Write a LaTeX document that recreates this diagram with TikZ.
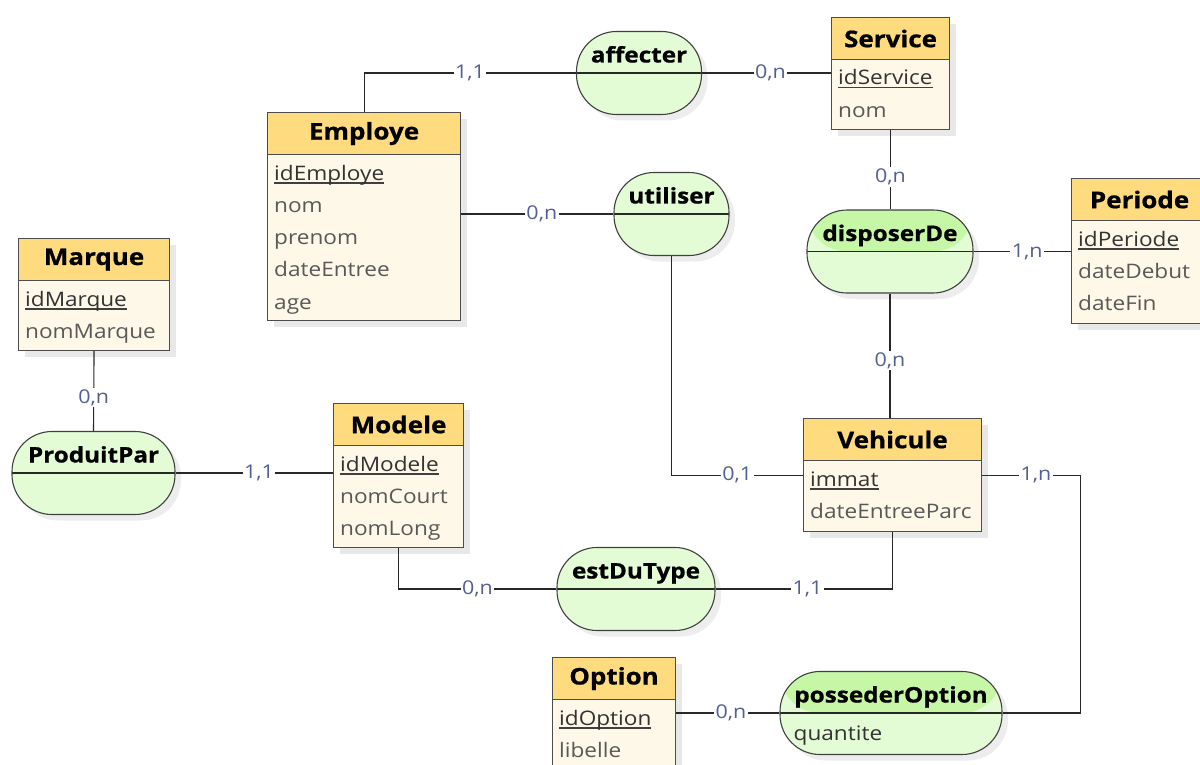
\documentclass[tikz,border=0pt]{standalone}
\usepackage{fontspec}
\setmainfont{Open Sans}[FakeStretch=1.13, BoldFeatures={FakeBold=0.8}]
\usetikzlibrary{shadows}

\definecolor{entete}{RGB}{255,219,128}
\definecolor{corps}{RGB}{253,248,232}
\definecolor{relhaut}{RGB}{198,247,166}
\definecolor{relbas}{RGB}{228,252,214}
\definecolor{cardcol}{RGB}{84,96,145}
\definecolor{trait}{RGB}{40,40,40}

% cle primaire soulignee
\newcommand{\cle}[1]{\setbox0\hbox{\color{black!80}#1}\rlap{\color{black!75}\rule[-3.5pt]{\wd0}{1.1pt}}\box0}

% entite : nom, x, y, largeur, hauteur, titre, attributs
\newcommand{\entite}[7]{%
  \node[corpsbox, minimum width=#4pt, minimum height=#5pt] (#1) at (#2,#3) {};
  \node[tetebox, minimum width=#4pt] (#1-t) at (#1.north west) {#6};
  \foreach \a [count=\i from 0] in {#7}
    \node[attr] at ([shift={(7,68+32.3*\i)}]#1.north west) {\a};
}

% association : nom, x, y, largeur, titre, couleur du haut
\newcommand{\assoc}[6]{%
  \node[relbox, minimum width=#4pt, path picture={
      \fill[#6] (path picture bounding box.north west) rectangle (path picture bounding box.east);
      \draw[trait, line width=1.1pt] (path picture bounding box.west) -- (path picture bounding box.east);}]
    (#1) at (#2,#3) {};
  \node[titre, anchor=base] (#1-t) at ([yshift=10.5pt]#1.center) {#5};
}

\begin{document}
\begin{tikzpicture}
[x=1pt, y=-1pt,
corpsbox/.style={draw=black!70, line width=1.1pt, fill=corps, anchor=north west,
  drop shadow={shadow xshift=6pt, shadow yshift=-6pt, fill=black!9, opacity=1}},
tetebox/.style={draw=black!70, line width=1.1pt, fill=entete, anchor=north west,
  minimum height=42pt, inner sep=0pt, font=\fontsize{23}{26}\selectfont\bfseries, text=black},
relbox/.style={draw=black!75, line width=1.1pt, fill=relbas, minimum height=83pt,
  rounded corners=40pt,
  drop shadow={shadow xshift=6pt, shadow yshift=-6pt, fill=black!7, opacity=1}},
titre/.style={inner sep=0pt, font=\fontsize{21.5}{24}\selectfont\bfseries, text=black},
attr/.style={anchor=base west, inner sep=0pt, text=black!65, font=\fontsize{20}{22}\selectfont},
lien/.style={draw=trait, line width=1.1pt},
card/.style={fill=white, inner sep=1.5pt, text=cardcol, font=\fontsize{19}{22}\selectfont},
]
\useasboundingbox (0,0) rectangle (1200,765);

% entites
\entite{emp}{267}{112}{193}{208}{Employe}{{\cle{idEmploye}},nom,prenom,dateEntree,age}
\entite{srv}{831}{17}{118}{112}{Service}{{\cle{idService}},nom}
\entite{per}{1071}{178}{136}{145}{Periode}{{\cle{idPeriode}},dateDebut,dateFin}
\entite{mar}{18}{238}{151}{112}{Marque}{{\cle{idMarque}},nomMarque}
\entite{mod}{333}{403}{130}{144}{Modele}{{\cle{idModele}},nomCourt,nomLong}
\entite{veh}{803}{418}{178}{113}{Vehicule}{{\cle{immat}},dateEntreeParc}
\entite{opt}{552}{657}{123}{145}{Option}{{\cle{idOption}},libelle}

% associations
\assoc{aff}{639}{73}{125}{affecter}{relbas}
\assoc{uti}{671.5}{214}{115}{utiliser}{relbas}
\assoc{dis}{890}{251.5}{166}{disposerDe}{relhaut}
\assoc{pro}{93.5}{473}{163}{ProduitPar}{relbas}
\assoc{edt}{636}{589}{158}{estDuType}{relbas}
\assoc{pos}{891}{713}{222}{possederOption}{relhaut}
\node[attr, text=black!80] (pos-a) at ([shift={(14,27)}]pos.west) {quantite};

% liens
\draw[lien] (emp.north) |- node[card, pos=.75] {1,1} (aff.west);
\draw[lien] (aff.east) -- node[card, pos=.53] {0,n} (aff.east -| srv.west);
\draw[lien] (srv.south) -- node[card, pos=.59] {0,n} (srv.south |- dis.north);
\draw[lien] (dis.east) -- node[card, pos=.55] {1,n} (dis.east -| per.west);
\draw[lien] (dis.south) -- node[card, pos=.54] {0,n} (dis.south |- veh.north);
\draw[lien] (uti.west -| emp.east) -- node[card, pos=.53] {0,n} (uti.west);
\draw[lien] (uti.south) |- node[card, pos=.75] {0,1} (veh.west);
\draw[lien] (mar.south) -- node[card, pos=.585] {0,n} (pro.north);
\draw[lien] (pro.east) -- node[card, pos=.53] {1,1} (pro.east -| mod.west);
\draw[lien] (mod.south) |- node[card, pos=.75] {0,n} (edt.west);
\draw[lien] (edt.east) -| node[card, pos=.26] {1,1} (veh.south);
\draw[lien] (veh.east) -- node[card, pos=.55] {1,n} ++(98,0) |- (pos.east);
\draw[lien] (pos.west) -- node[card, pos=.47] {0,n} (pos.west -| opt.east);

\end{tikzpicture}
\end{document}
